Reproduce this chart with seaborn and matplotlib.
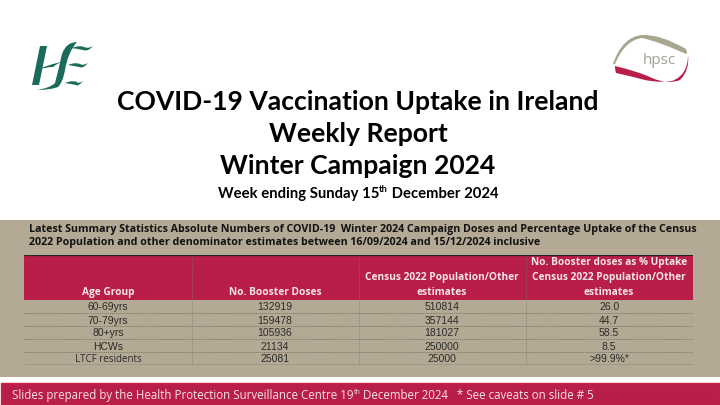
"""HSE/HPSC weekly COVID-19 vaccination uptake title slide with summary table."""
import matplotlib
matplotlib.use("Agg")
import matplotlib.pyplot as plt
import numpy as np
import seaborn as sns
from matplotlib.colors import ListedColormap
from matplotlib.patches import PathPatch, Polygon, Rectangle
from matplotlib.path import Path

W, H = 720, 405
CRIMSON = "#b81e48"
TAN = "#b4a994"
GREEN = "#1b6b5b"
HEAD_FONT = "Open Sans"
BODY_FONT = "Liberation Sans"

age_groups = ["60-69yrs", "70-79yrs", "80+yrs", "HCWs", "LTCF residents"]
booster_doses = ["132919", "159478", "105936", "21134", "25081"]
population = ["510814", "357144", "181027", "250000", "25000"]
uptake = ["26.0", "44.7", "58.5", "8.5", ">99.9%*"]
headers = [
    ["Age Group"],
    ["No. Booster Doses"],
    ["Census 2022 Population/Other", "estimates"],
    ["No. Booster doses as % Uptake", "Census 2022 Population/Other", "estimates"],
]
summary_lines = [
    "Latest Summary Statistics Absolute Numbers of COVID-19  Winter 2024 Campaign Doses and Percentage Uptake of the Census",
    "2022 Population and other denominator estimates between 16/09/2024 and 15/12/2024 inclusive",
]


def runs(ax, x, y, parts, center=False, **kw):
    """Write (text, superscript) runs one after the other on a baseline."""
    rend = ax.figure.canvas.get_renderer()
    size = kw.pop("fontsize")
    items, total = [], 0
    for txt, sup in parts:
        t = ax.text(x, y, txt, fontsize=size * (0.62 if sup else 1), va="baseline", **kw)
        w = t.get_window_extent(rend).width
        items.append((t, w, sup))
        total += w
    cur = x - total / 2 if center else x
    for t, w, sup in items:
        t.set_position((cur, y - size * 0.55 if sup else y))
        cur += w


sns.set_theme(style="white")
fig = plt.figure(figsize=(W / 100, H / 100), dpi=100, facecolor="white")
bg = fig.add_axes([0, 0, 1, 1])
bg.set_xlim(0, W)
bg.set_ylim(H, 0)
bg.axis("off")

# bands
bg.add_patch(Rectangle((0, 220), W, 157, color=TAN, lw=0))
bg.add_patch(Rectangle((0.5, 382.5), W - 1, 22, facecolor=CRIMSON, edgecolor="#d0203f", lw=1))

# HSE logo
bg.add_patch(Polygon([(40, 46), (47, 46), (39, 85), (32, 85)], color=GREEN, lw=0))
bg.add_patch(PathPatch(Path(
    [(36, 70), (46, 66), (53, 64), (58, 63), (63, 61), (58, 63), (53, 67), (45, 67), (36, 70)],
    [Path.MOVETO] + [Path.CURVE3] * 8), color=GREEN, lw=0))
bg.add_patch(PathPatch(Path(
    [(77, 42), (66, 42), (62, 54), (58, 72), (55, 83), (50, 88), (37, 90), (50, 90), (58, 87),
     (63, 82), (65, 70), (68, 52), (77, 42)],
    [Path.MOVETO] + [Path.CURVE3] * 12), color=GREEN, lw=0))
for y0, x0, x1 in [(48, 72, 93), (65, 68, 88), (83, 65, 83)]:
    bg.add_patch(PathPatch(Path(
        [(x0, y0), (x0 + 7, y0 - 3), (x0 + 12, y0 - 1), (x1 - 5, y0 + 1), (x1, y0 - 2), (x1 - 5, y0 + 4),
         (x0 + 11, y0 + 2), (x0 + 6, y0 + 1), (x0, y0)],
        [Path.MOVETO] + [Path.CURVE3] * 8), color=GREEN, lw=0))

# hpsc logo
bg.add_patch(PathPatch(Path(
    [(613, 64), (622, 37), (642, 35), (660, 34), (686, 49), (688, 53), (686, 54), (660, 42), (642, 38), (625, 40), (615, 64), (614, 64), (613, 64)],
    [Path.MOVETO] + [Path.CURVE3] * 12), color="#a9a68f", lw=0))
bg.add_patch(PathPatch(Path(
    [(615, 66), (640, 72), (652, 78), (668, 85), (680, 80), (690, 70), (688, 55), (688, 75), (672, 81), (660, 83), (645, 80), (630, 76), (616, 73), (615, 70), (615, 66)],
    [Path.MOVETO] + [Path.CURVE3] * 14), color=CRIMSON, lw=0))
bg.text(659, 61, "hpsc", fontsize=11, color="#a2a29a", family="Open Sans", ha="center", va="center")

# titles
title_kw = dict(family="Lato", weight="bold", color="black", ha="center", va="center")
bg.text(358, 101.5, "COVID-19 Vaccination Uptake in Ireland", fontsize=19.1, **title_kw)
bg.text(358, 134, "Weekly Report", fontsize=19.1, **title_kw)
bg.text(358, 166.5, "Winter Campaign 2024", fontsize=19.1, **title_kw)

# summary heading
for y, line in zip([229.5, 242], summary_lines):
    bg.text(29, y, line, fontsize=7.65, family=HEAD_FONT, weight="bold", color="#111111", va="center")

# table: 17 half rows, header takes 7, each body row takes 2
kinds = np.zeros((17, 4), dtype=int)
kinds[:7, :] = 1
ax = fig.add_axes([24.5 / W, 1 - 365 / H, 668.2 / W, 110.5 / H])
sns.heatmap(kinds, cmap=ListedColormap([TAN, CRIMSON]), vmin=0, vmax=1, cbar=False,
            xticklabels=False, yticklabels=False, ax=ax)
ax.patch.set_alpha(0)

ax.vlines([1, 2, 3], 0, 17, color="#7d7667", lw=0.6, linestyles=(0, (1, 1.5)))
ax.hlines([9, 11, 13, 15], 0, 4, color="#7d7667", lw=0.6, linestyles=(0, (1.5, 1)))
ax.hlines([0.05], 0, 4, color="#222222", lw=0.9)
ax.hlines([16.95], 0, 4, color="#222222", lw=0.9)

columns = [age_groups, booster_doses, population, uptake]
for c, vals in enumerate(columns):
    for r, val in enumerate(vals):
        fam = HEAD_FONT if val == "LTCF residents" else BODY_FONT
        ax.text(c + 0.5, 8 + 2 * r, val, ha="center", va="center_baseline", family=fam,
                fontsize=7 if fam == HEAD_FONT else 7.5, color="#2b2b2b")
    lines = headers[c]
    for i, line in enumerate(lines):
        ax.text(c + 0.5, 5.9 - 2.3 * (len(lines) - 1 - i), line, ha="center", va="center",
                family=HEAD_FONT, weight="bold", fontsize=7.25, color="#f7e6ea")

fig.canvas.draw()
# sub-heading and footer have superscripts, so they go in pixel runs
px = fig.add_axes([0, 0, 1, 1])
px.set_xlim(0, W)
px.set_ylim(H, 0)
px.axis("off")
runs(px, 358, 198, [("Week ending Sunday 15", False), ("th", True), (" December 2024", False)],
     center=True, fontsize=10.7, family="Lato", weight="bold", color="black")
runs(px, 12, 399, [("Slides prepared by the Health Protection Surveillance Centre 19", False), ("th", True),
                   (" December 2024   * See caveats on slide # 5", False)],
     fontsize=8.3, family=HEAD_FONT, color="#f8e4e8")

fig.savefig("out.png", dpi=100)
